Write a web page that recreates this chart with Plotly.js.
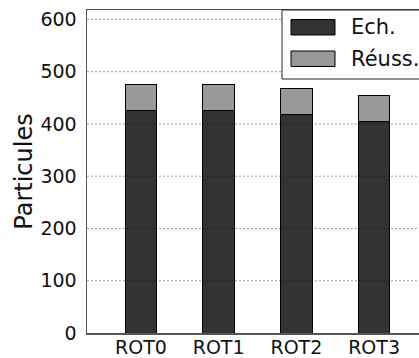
<!DOCTYPE html>
<html>
<head>
<meta charset="utf-8">
<script src="https://cdn.plot.ly/plotly-3.0.1.min.js"></script>
<style>
html,body{margin:0;padding:0;overflow:hidden;background:#fff;}
#chart{width:440px;height:358px;}
</style>
</head>
<body>
<div id="chart"></div>
<script>
const categories = ["ROT0", "ROT1", "ROT2", "ROT3"];
const seriesNames = ["Ech.", "Réuss."];
const seriesColors = ["#333333", "#999999"];
const echValues = [426, 425, 419, 405];
const reussValues = [49, 50, 49, 49];
const yTicks = [0, 100, 200, 300, 400, 500, 600];

const FONT = "DejaVu Sans, sans-serif";

const traces = [
  {
    type: "bar", name: seriesNames[0], x: categories, y: echValues,
    width: 0.405, showlegend: false,
    marker: {color: seriesColors[0], line: {color: "#000", width: 1}}
  },
  {
    type: "bar", name: seriesNames[1], x: categories, y: reussValues,
    width: 0.405, showlegend: false,
    marker: {color: seriesColors[1], line: {color: "#000", width: 1}}
  }
];

// grid lines drawn above bars (as in reference)
const shapes = yTicks.filter(v => v > 0).map(v => ({
  type: "line", xref: "paper", yref: "y", x0: 0, x1: 1, y0: v, y1: v,
  layer: "above", line: {color: "rgba(0,0,0,0.38)", width: 1, dash: "2px,2px"}
}));

// custom legend (plot area: x 87..428 px, y 10..333 px)
const px = p => (p - 87) / 341;
const py = p => (333 - p) / 323;
shapes.push({
  type: "rect", xref: "paper", yref: "paper",
  x0: px(282), x1: 1.2, y0: py(79), y1: 1.0,
  layer: "above", fillcolor: "#fff", line: {color: "#222", width: 1}
});
const swatchY = [[19.5, 35], [51, 66.5]];
const annotations = [];
seriesNames.forEach((n, i) => {
  shapes.push({
    type: "rect", xref: "paper", yref: "paper",
    x0: px(291), x1: px(335), y0: py(swatchY[i][1]), y1: py(swatchY[i][0]),
    layer: "above", fillcolor: seriesColors[i], line: {color: "#000", width: 1}
  });
  annotations.push({
    xref: "paper", yref: "paper", x: px(349), y: py((swatchY[i][0] + swatchY[i][1]) / 2),
    xanchor: "left", yanchor: "middle", showarrow: false,
    text: n, font: {family: FONT, size: 21, color: "#111"}
  });
});

const layout = {
  width: 440, height: 358,
  margin: {l: 87, r: 12, t: 10, b: 25},
  barmode: "stack",
  paper_bgcolor: "#fff", plot_bgcolor: "#fff",
  font: {family: FONT, size: 19, color: "#111"},
  xaxis: {
    range: [-0.694, 3.694],
    showline: true, linecolor: "#555", linewidth: 1.5, mirror: true,
    showgrid: false, ticks: "", tickfont: {size: 19},
    ticklabelstandoff: -3
  },
  yaxis: {
    range: [0, 618],
    tickvals: yTicks,
    showline: true, linecolor: "#555", linewidth: 1.5, mirror: true,
    showgrid: false, zeroline: false,
    ticks: "", ticklabelstandoff: 5, tickfont: {size: 19},
    title: {text: "Particules", font: {size: 24}, standoff: 1}
  },
  showlegend: false,
  shapes: shapes,
  annotations: annotations
};

Plotly.newPlot("chart", traces, layout, {staticPlot: true, displayModeBar: false});
</script>
</body>
</html>
